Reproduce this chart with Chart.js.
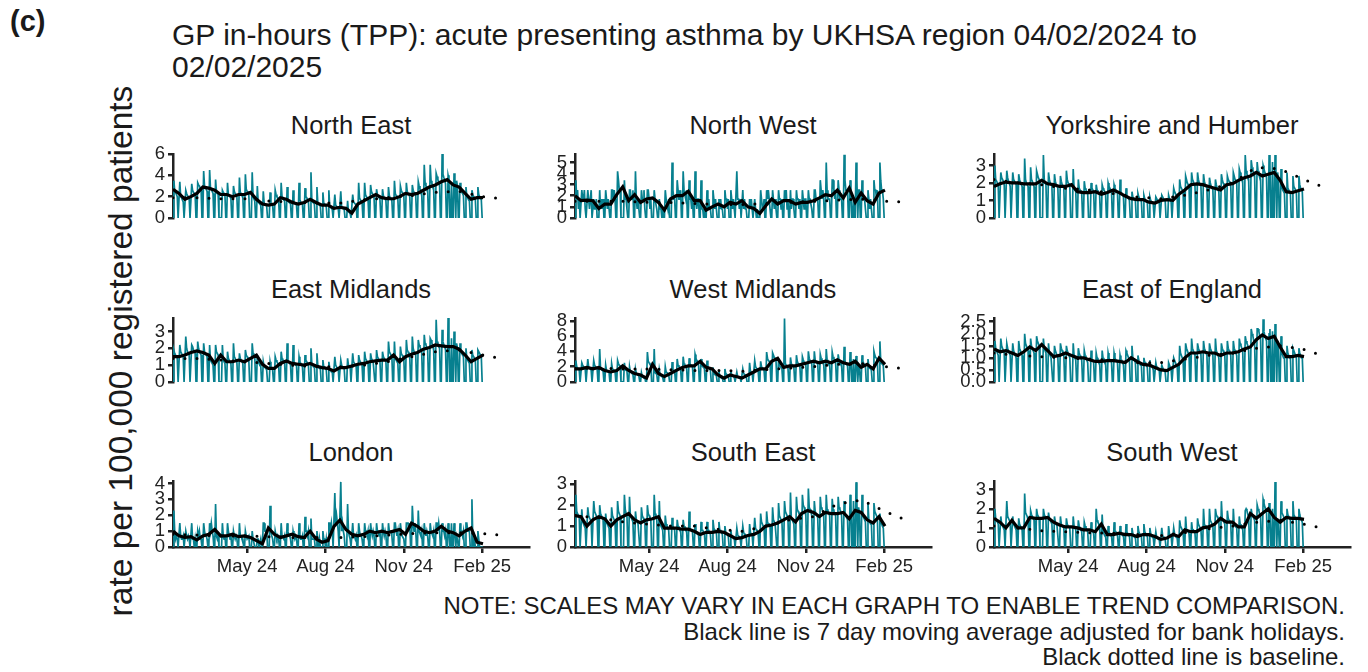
<!DOCTYPE html>
<html>
<head>
<meta charset="utf-8">
<script src="https://cdn.jsdelivr.net/npm/chart.js@4.4.1/dist/chart.umd.min.js"></script>
<style>
  body { margin: 0; width: 1368px; height: 672px; background: #fff; position: relative; overflow: hidden;
         font-family: "Liberation Sans", Arial, sans-serif; color: #1a1a1a; }
  .t { position: absolute; white-space: nowrap; line-height: 1; }
  canvas { position: absolute; }
</style>
</head>
<body>
<div class="t" style="left:10px;top:7px;font-size:29px;font-weight:bold;">(c)</div>
<div class="t" style="left:172px;top:19px;font-size:30px;line-height:32px;">GP in-hours (TPP): acute presenting asthma by UKHSA region 04/02/2024 to<br>02/02/2025</div>
<div class="t" style="left:-179px;top:331px;width:600px;height:40px;line-height:40px;font-size:33.5px;text-align:center;transform:rotate(-90deg);">rate per 100,000 registered patients</div>
<div class="t" style="right:23px;top:593px;font-size:24px;line-height:25.5px;text-align:right;">NOTE: SCALES MAY VARY IN EACH GRAPH TO ENABLE TREND COMPARISON.<br>Black line is 7 day moving average adjusted for bank holidays.<br>Black dotted line is baseline.</div>

<script>
// regions in facet order
const regions = ['North East', 'North West', 'Yorkshire and Humber',
                 'East Midlands', 'West Midlands', 'East of England',
                 'London', 'South East', 'South West'];

// x axis: day index from 04/02/2024 (day 0) to 02/02/2025 (day 364)
const startDate = '2024-02-04';
const tickDates = ['2024-05-01', '2024-08-01', '2024-11-01', '2025-02-01'];
const tickLabels = ['May 24', 'Aug 24', 'Nov 24', 'Feb 25'];

// y axis ticks and tops per region
const yTickSets = [[0, 2, 4, 6], [0, 1, 2, 3, 4, 5], [0, 1, 2, 3],
                   [0, 1, 2, 3], [0, 2, 4, 6, 8], [0, 0.5, 1, 1.5, 2, 2.5],
                   [0, 1, 2, 3, 4], [0, 1, 2, 3], [0, 1, 2, 3]];
const yMaxes = [6.0, 5.75, 3.65, 3.8, 8.35, 2.65, 4.15, 3.15, 3.45];

// 7 day moving average, one value every 7 days (day 0, 7, ... 364)
const neAvg = [2.7,2.3,1.75,2.0,2.3,2.9,2.8,2.6,2.2,2.2,2.0,2.2,2.2,2.4,1.75,1.3,1.2,1.3,1.9,1.75,1.45,1.3,1.45,1.75,1.45,1.2,1.2,0.9,1.0,0.9,0.45,1.3,1.6,1.9,2.2,1.9,1.8,1.8,2.0,2.3,2.2,2.3,2.6,2.9,3.1,3.4,3.6,3.1,2.9,2.3,1.75,1.9,1.9];
const nwAvg = [2.0,1.55,1.6,1.55,0.85,1.25,1.25,2.1,2.8,1.55,2.1,1.4,1.7,1.8,1.4,0.7,1.7,2.0,2.0,2.4,1.55,1.55,0.7,1.0,1.25,1.0,1.4,1.25,1.55,1.0,0.85,0.4,1.1,1.7,1.25,1.55,1.55,1.25,1.4,1.4,1.55,1.8,2.1,2.0,2.5,1.8,2.7,1.4,2.25,1.55,1.25,2.25,2.5];
const yhAvg = [1.8,1.95,2.05,2.0,2.0,1.95,1.95,1.95,2.15,1.95,1.9,1.8,1.8,1.9,1.5,1.45,1.45,1.5,1.35,1.45,1.6,1.45,1.25,1.1,1.05,1.05,0.9,0.85,1.0,1.05,1.0,1.35,1.6,1.9,1.95,1.9,1.8,1.7,1.6,1.9,1.95,2.15,2.3,2.4,2.6,2.4,2.5,2.6,2.15,1.5,1.45,1.55,1.65];
const emAvg = [1.5,1.5,1.6,1.75,1.85,1.75,1.6,1.1,1.6,1.2,1.2,1.3,1.2,1.4,1.6,1.05,0.8,0.8,1.1,1.25,1.1,1.05,1.0,1.1,0.95,0.85,0.8,0.65,0.85,0.85,0.95,1.05,1.1,1.2,1.25,1.3,1.3,1.6,1.2,1.5,1.65,1.75,1.95,2.05,2.2,2.15,2.1,2.1,1.95,1.6,1.2,1.4,1.6];
const wmAvg = [1.7,1.7,1.9,1.7,1.9,1.5,1.3,1.5,2.1,1.5,1.1,0.9,0.5,2.3,1.1,0.7,1.1,1.5,1.9,2.1,2.1,2.7,1.9,1.7,0.9,0.5,0.9,0.7,0.5,0.9,1.3,1.7,1.7,2.7,3.1,1.9,2.1,2.1,2.3,2.5,2.7,2.5,2.7,2.5,2.9,2.5,2.3,2.7,1.9,2.3,1.7,3.1,2.3];
const eeAvg = [1.37,1.25,1.3,1.2,1.1,1.25,1.45,1.3,1.55,1.3,1.05,1.1,1.2,1.1,1.0,1.0,0.92,0.85,0.85,0.88,0.88,0.85,0.8,1.0,0.85,0.73,0.7,0.6,0.5,0.47,0.6,0.73,1.0,1.2,1.2,1.25,1.2,1.2,1.1,1.2,1.2,1.25,1.37,1.45,1.75,1.95,1.8,1.9,1.45,1.05,1.05,1.1,1.05];
const loAvg = [1.0,0.7,0.6,0.65,0.45,0.7,0.8,1.1,0.7,0.7,0.8,0.65,0.7,0.6,0.4,0.2,1.2,0.8,0.6,0.7,0.8,0.65,0.6,1.0,0.5,0.3,0.4,1.3,1.7,1.1,0.8,0.7,0.8,1.0,0.9,1.0,0.9,1.0,1.1,0.8,1.5,1.3,1.0,0.9,1.0,1.3,1.0,0.9,0.7,1.0,1.2,0.3,0.2];
const seAvg = [1.5,1.45,1.0,1.3,1.45,1.35,1.0,1.3,1.45,1.6,1.3,1.15,1.3,1.35,1.45,0.9,0.9,0.9,0.85,0.85,0.75,0.6,0.7,0.7,0.75,0.7,0.55,0.4,0.45,0.55,0.6,0.75,1.0,1.05,1.15,1.3,1.45,1.2,1.6,1.75,1.65,1.45,1.65,1.6,1.6,1.65,1.35,1.75,1.65,1.3,1.15,1.45,1.0];
const swAvg = [1.5,1.3,1.0,1.4,1.0,1.0,1.55,1.5,1.5,1.55,1.3,1.15,1.05,1.05,1.0,0.9,0.9,0.8,1.2,0.65,0.65,0.72,0.65,0.65,0.55,0.65,0.65,0.55,0.4,0.47,0.65,0.55,0.9,0.8,0.8,1.0,1.05,1.2,1.5,1.3,1.3,1.05,1.05,1.75,1.5,1.75,2.0,1.55,1.3,1.55,1.5,1.5,1.45];

// baseline, at these days
const baseDays = [0, 28, 56, 84, 112, 140, 168, 196, 224, 252, 280, 308, 336, 364, 385];
const neBase = [1.9,1.9,1.8,1.8,1.6,1.5,1.4,1.4,1.7,1.9,2.1,2.4,2.5,2.0,1.8];
const nwBase = [1.5,1.5,1.5,1.4,1.4,1.3,1.2,1.2,1.3,1.4,1.5,1.6,1.7,1.5,1.45];
const yhBase = [2.2,2.0,1.9,1.7,1.6,1.4,1.2,1.1,1.3,1.6,2.0,2.9,2.8,2.2,1.8];
const emBase = [1.4,1.4,1.3,1.2,1.1,1.0,0.9,0.9,1.0,1.2,1.5,1.8,1.9,1.6,1.4];
const wmBase = [1.8,1.8,1.7,1.7,1.6,1.5,1.5,1.4,1.6,1.8,2.0,2.3,2.4,2.0,1.75];
const eeBase = [1.2,1.1,1.05,1.0,0.95,0.9,0.8,0.8,0.95,1.1,1.2,1.4,1.5,1.35,1.1];
const loBase = [0.8,0.75,0.7,0.7,0.65,0.6,0.6,0.6,0.65,0.75,0.85,0.9,0.9,0.85,0.75];
const seBase = [1.5,1.4,1.2,1.1,1.0,1.0,0.85,0.75,1.0,1.3,1.45,2.05,2.25,1.7,1.35];
const swBase = [1.1,1.0,0.85,0.8,0.75,0.72,0.65,0.6,0.75,0.95,1.1,1.3,1.4,1.2,1.0];

// daily rates in tenths: Sun 04/02/2024, then one line per week Mon..Sun
const neDaily = `0
35 26 24 22 20 0 0
34 20 19 17 15 0 0
26 23 21 20 18 0 0
32 26 24 23 21 0 0
33 31 30 28 26 0 0
44 30 29 27 25 0 0
45 28 27 25 23 0 0
36 25 23 22 0 0 0
0 26 24 23 21 0 0
33 22 21 20 18 0 0
30 25 23 22 20 0 0
38 24 23 21 20 0 0
41 27 25 24 22 0 0
0 43 20 18 16 0 0
30 15 14 13 12 0 0
25 14 13 12 11 0 0
0 24 14 13 12 0 0
26 22 20 19 17 0 0
33 20 19 17 16 0 0
29 17 15 14 13 0 0
26 15 14 13 12 0 0
33 17 15 14 13 0 0
28 20 19 17 16 0 0
43 17 15 14 13 0 0
29 14 13 12 11 0 0
24 14 13 12 10 0 0
26 11 10 9 8 0 0
22 12 11 10 9 0 0
25 10 9 9 8 0 0
0 16 6 5 4 0 0
22 15 14 13 12 0 0
33 19 17 16 15 0 0
33 22 20 19 17 0 0
31 25 23 22 20 0 0
27 22 20 19 17 0 0
27 21 19 18 16 0 0
29 21 19 18 16 0 0
35 23 21 20 18 0 0
30 26 24 23 21 0 0
33 25 23 22 20 0 0
31 26 24 23 21 0 0
34 30 27 26 23 0 0
50 33 30 29 26 0 0
50 35 32 31 28 0 0
42 39 36 34 31 0 0
60 41 38 36 32 0 0
40 36 0 0 33 0 0
42 34 0 35 30 0 0
33 26 24 23 21 0 0
29 20 19 17 16 0 0
26 22 20 19 17 0 0
29 22 20 19 17 0 0`;

const nwDaily = `0
34 17 25 8 17 0 0
25 17 17 25 8 0 0
25 17 8 17 25 0 0
17 8 8 17 0 0 0
25 8 17 8 17 0 0
25 17 8 17 8 0 0
25 25 17 25 17 0 0
42 34 25 25 0 0 0
0 34 17 17 8 0 0
25 25 17 17 25 0 0
42 17 8 17 8 0 0
25 17 17 25 8 0 0
25 25 17 8 17 0 0
0 25 17 17 8 0 0
17 8 8 0 8 0 0
25 17 17 8 17 0 0
0 50 25 17 17 0 0
34 25 17 17 25 0 0
42 25 25 17 25 0 0
34 17 17 8 17 0 0
42 17 8 17 17 0 0
34 8 8 0 8 0 0
25 8 17 8 8 0 0
25 17 8 17 8 0 0
17 8 17 8 8 0 0
25 17 17 8 17 0 0
25 17 8 17 8 0 0
42 17 17 8 17 0 0
25 8 17 8 8 0 0
0 17 8 17 8 0 0
17 8 0 8 0 0 0
25 17 8 8 17 0 0
25 17 25 17 8 0 0
25 17 8 17 8 0 0
25 17 17 8 17 0 0
25 17 25 8 17 0 0
25 8 17 17 8 0 0
25 17 17 8 17 0 0
25 17 8 17 17 0 0
25 17 17 17 8 0 0
25 25 17 17 17 0 0
34 25 17 25 17 0 0
50 25 17 17 17 0 0
34 34 25 17 25 0 0
34 25 17 17 17 0 0
57 34 25 25 25 0 0
34 25 0 0 17 0 0
50 34 0 25 25 0 0
34 17 17 17 8 0 0
25 17 8 17 8 0 0
34 25 25 17 25 0 0
50 34 25 25 17 0 0`;

const yhDaily = `0
30 22 21 20 18 0 0
26 23 22 21 19 0 0
27 23 21 20 18 0 0
26 22 21 20 19 0 0
25 22 20 19 18 0 0
34 22 20 19 18 0 0
29 22 21 19 18 0 0
27 25 23 22 0 0 0
0 36 22 20 19 0 0
26 22 20 19 18 0 0
25 21 19 18 17 0 0
24 21 19 18 17 0 0
27 22 20 19 18 0 0
0 28 17 16 15 0 0
22 17 16 15 14 0 0
21 17 16 15 14 0 0
0 20 17 16 15 0 0
19 16 15 14 13 0 0
19 17 16 15 14 0 0
20 18 17 16 15 0 0
19 17 16 15 14 0 0
22 15 14 13 12 0 0
17 13 12 11 10 0 0
15 12 11 11 10 0 0
14 12 11 10 10 0 0
13 11 10 9 9 0 0
12 10 9 9 8 0 0
12 11 10 10 9 0 0
13 12 11 10 10 0 0
0 13 11 10 9 0 0
17 15 14 13 12 0 0
22 18 17 16 15 0 0
24 22 20 19 18 0 0
26 22 21 19 18 0 0
26 22 20 19 18 0 0
25 21 19 18 17 0 0
23 20 18 17 16 0 0
22 19 17 16 15 0 0
25 22 20 19 18 0 0
24 22 21 20 18 0 0
26 24 22 21 20 0 0
28 26 24 23 21 0 0
36 27 25 24 22 0 0
33 29 27 26 24 0 0
32 27 25 24 22 0 0
30 28 26 25 23 0 0
36 30 0 0 32 0 0
36 28 0 26 22 0 0
28 18 16 15 14 0 0
26 17 16 15 14 0 0
24 18 17 16 15 0 0
24 19 17 16 15 0 0`;

const emDaily = `0
19 17 16 15 14 0 0
22 18 17 16 15 0 0
27 20 18 17 16 0 0
22 21 19 18 17 0 0
24 20 18 17 16 0 0
23 18 17 16 15 0 0
22 13 12 11 10 0 0
22 18 17 16 0 0 0
0 22 13 12 11 0 0
18 14 13 12 11 0 0
23 15 14 13 12 0 0
17 14 13 12 11 0 0
19 16 15 14 13 0 0
0 23 17 16 15 0 0
16 12 11 10 10 0 0
12 9 9 8 7 0 0
0 12 9 8 7 0 0
15 13 12 11 10 0 0
18 14 13 12 12 0 0
23 13 12 11 10 0 0
22 12 11 10 10 0 0
15 12 11 10 9 0 0
16 13 12 11 10 0 0
20 11 10 9 9 0 0
17 10 9 8 8 0 0
13 9 9 8 7 0 0
12 8 7 6 6 0 0
15 10 9 8 8 0 0
13 10 9 8 8 0 0
0 14 10 9 9 0 0
17 12 11 10 10 0 0
16 13 12 11 10 0 0
18 14 13 12 11 0 0
17 14 13 12 12 0 0
19 15 14 13 12 0 0
18 15 14 13 12 0 0
24 18 17 16 15 0 0
24 14 13 12 11 0 0
21 17 16 15 14 0 0
25 19 18 16 15 0 0
27 20 18 17 16 0 0
25 22 21 19 18 0 0
28 23 22 20 19 0 0
26 25 23 22 20 0 0
37 24 23 21 20 0 0
31 24 22 21 19 0 0
38 25 0 0 26 0 0
30 24 0 23 20 0 0
23 18 17 16 15 0 0
20 14 13 12 11 0 0
19 16 15 14 13 0 0
19 18 17 16 15 0 0`;

const wmDaily = `0
28 20 18 17 15 0 0
25 22 20 19 17 0 0
30 20 18 17 15 0 0
28 22 20 19 17 0 0
43 17 16 15 14 0 0
22 15 14 13 12 0 0
24 17 16 15 14 0 0
28 24 22 21 0 0 0
0 25 16 15 14 0 0
20 13 12 11 10 0 0
17 11 10 9 8 0 0
12 7 6 5 5 0 0
39 27 25 23 21 0 0
0 43 12 11 10 0 0
16 9 8 7 6 0 0
20 13 12 11 10 0 0
0 26 16 15 14 0 0
30 22 20 19 17 0 0
33 24 22 21 19 0 0
31 24 22 21 19 0 0
36 31 28 27 24 0 0
30 22 20 19 17 0 0
28 20 18 17 15 0 0
19 11 10 9 8 0 0
14 7 6 5 5 0 0
17 11 10 9 8 0 0
15 9 8 7 6 0 0
13 7 6 5 5 0 0
17 11 10 9 8 0 0
0 25 14 13 12 0 0
28 20 18 17 15 0 0
27 20 18 17 15 0 0
39 31 28 27 24 0 0
38 35 32 31 28 0 0
30 22 20 19 17 0 0
83 24 22 21 19 0 0
32 24 22 21 19 0 0
35 27 24 23 21 0 0
33 29 26 25 23 0 0
40 31 28 27 24 0 0
40 29 26 25 23 0 0
36 31 28 27 24 0 0
43 29 26 25 23 0 0
39 33 30 29 26 0 0
36 29 26 25 23 0 0
46 27 24 23 21 0 0
39 31 0 0 30 0 0
34 25 0 22 19 0 0
35 27 24 23 21 0 0
30 20 18 17 15 0 0
40 35 32 31 28 0 0
53 27 24 23 21 0 0`;

const eeDaily = `0
17 14 13 12 11 0 0
18 15 14 13 12 0 0
16 14 13 12 11 0 0
16 13 12 11 10 0 0
17 14 13 12 11 0 0
20 16 15 14 13 0 0
18 15 14 13 12 0 0
19 17 16 15 0 0 0
0 18 14 13 12 0 0
16 12 11 10 10 0 0
15 13 12 11 10 0 0
16 14 13 12 11 0 0
15 13 12 11 10 0 0
0 16 11 10 9 0 0
14 12 11 10 9 0 0
13 11 10 9 8 0 0
0 13 9 9 8 0 0
12 10 9 9 8 0 0
13 10 9 9 8 0 0
12 10 9 9 8 0 0
12 10 9 9 8 0 0
11 9 9 8 7 0 0
13 12 11 10 9 0 0
15 10 9 9 8 0 0
11 9 8 7 7 0 0
10 8 8 7 6 0 0
9 7 7 6 5 0 0
8 6 6 5 5 0 0
7 6 5 5 4 0 0
0 8 7 6 5 0 0
10 9 8 7 7 0 0
15 12 11 10 9 0 0
16 14 13 12 11 0 0
18 14 13 12 11 0 0
16 14 13 12 11 0 0
17 14 13 12 11 0 0
16 14 13 12 11 0 0
18 13 12 11 10 0 0
16 14 13 12 11 0 0
17 14 13 12 11 0 0
17 14 13 12 11 0 0
18 16 15 14 13 0 0
19 17 16 15 13 0 0
22 20 19 17 16 0 0
22 22 21 19 18 0 0
26 21 19 18 17 0 0
20 22 0 0 21 0 0
24 19 0 17 14 0 0
19 12 11 10 10 0 0
15 12 11 10 10 0 0
14 13 12 11 10 0 0
14 12 11 10 10 0 0`;

const loDaily = `0
23 10 5 7 5 0 0
15 7 5 5 7 0 0
10 7 5 7 5 0 0
15 5 5 0 5 0 0
10 7 10 5 5 0 0
15 10 7 7 5 0 0
15 10 15 10 7 0 0
27 7 5 7 0 0 0
0 15 7 5 7 0 0
15 10 7 5 7 0 0
10 7 5 7 5 0 0
15 7 7 5 5 0 0
10 7 5 5 7 0 0
0 10 5 5 0 0 0
5 5 0 0 5 0 0
15 15 10 10 10 0 0
0 26 10 7 5 0 0
10 7 5 7 5 0 0
15 7 7 5 7 0 0
15 10 7 7 5 0 0
10 7 5 7 5 0 0
15 7 5 5 7 0 0
19 10 10 7 10 0 0
18 5 5 5 5 0 0
10 5 0 5 0 0 0
10 5 5 0 5 0 0
15 15 10 15 10 0 0
34 15 20 15 10 0 0
41 10 15 10 7 0 0
0 27 10 7 5 0 0
15 7 7 5 7 0 0
15 10 7 7 5 0 0
15 10 10 7 10 0 0
15 10 7 10 7 0 0
15 10 10 7 10 0 0
15 10 7 10 7 0 0
15 10 10 10 7 0 0
15 15 10 7 10 0 0
15 10 7 7 5 0 0
15 15 15 10 15 0 0
26 15 10 15 10 0 0
23 10 10 7 10 0 0
15 10 7 10 7 0 0
15 10 10 7 10 0 0
15 15 10 15 10 0 0
15 10 10 7 10 0 0
15 10 0 0 15 0 0
15 10 0 7 5 0 0
15 10 10 7 10 0 0
15 15 10 10 10 0 0
30 5 0 5 0 0 0
10 5 0 0 0 0 0`;

const seDaily = `0
25 17 16 15 14 0 0
18 12 11 10 9 0 0
19 15 14 13 12 0 0
22 17 16 15 14 0 0
20 16 15 14 13 0 0
16 12 11 10 9 0 0
19 15 14 13 12 0 0
22 17 16 15 0 0 0
0 25 18 16 15 0 0
24 15 14 13 12 0 0
17 13 12 11 11 0 0
19 15 14 13 12 0 0
20 16 15 14 13 0 0
0 25 16 15 14 0 0
22 11 10 9 8 0 0
15 11 10 9 8 0 0
0 14 10 9 8 0 0
13 10 9 9 8 0 0
13 10 9 9 8 0 0
17 9 8 8 7 0 0
11 7 7 6 6 0 0
12 8 8 7 6 0 0
12 8 8 7 6 0 0
13 9 8 8 7 0 0
12 8 8 7 6 0 0
10 7 6 6 5 0 0
8 5 5 4 4 0 0
9 6 5 5 4 0 0
10 7 6 6 5 0 0
0 11 7 6 6 0 0
14 9 8 8 7 0 0
16 12 11 10 9 0 0
17 12 11 11 10 0 0
19 13 12 11 11 0 0
21 15 14 13 12 0 0
22 17 16 15 14 0 0
26 14 13 12 11 0 0
24 18 17 16 15 0 0
25 20 19 17 16 0 0
28 19 18 17 15 0 0
22 17 16 15 14 0 0
24 19 18 17 15 0 0
25 18 17 16 15 0 0
23 18 17 16 15 0 0
24 19 18 17 15 0 0
22 16 15 14 13 0 0
25 21 0 0 22 0 0
31 21 0 19 16 0 0
25 15 14 13 12 0 0
21 13 12 11 11 0 0
21 17 16 15 14 0 0
16 12 11 10 9 0 0`;

const swDaily = `0
20 15 14 13 12 0 0
16 12 11 10 9 0 0
24 16 15 14 13 0 0
16 12 11 10 9 0 0
15 12 11 10 9 0 0
28 18 17 16 14 0 0
19 17 16 15 14 0 0
20 17 16 15 0 0 0
0 20 17 16 14 0 0
18 15 14 13 12 0 0
16 13 12 11 11 0 0
16 12 11 11 10 0 0
15 12 11 11 10 0 0
0 16 11 10 9 0 0
14 11 10 9 8 0 0
13 11 10 9 8 0 0
0 13 9 8 7 0 0
20 14 13 12 11 0 0
17 8 7 6 6 0 0
11 8 7 6 6 0 0
13 8 8 7 6 0 0
11 8 7 6 6 0 0
12 8 7 6 6 0 0
10 7 6 5 5 0 0
11 8 7 6 6 0 0
12 8 7 6 6 0 0
10 7 6 5 5 0 0
8 5 5 4 4 0 0
10 6 5 5 4 0 0
0 11 7 6 6 0 0
10 7 6 5 5 0 0
14 11 10 9 8 0 0
16 9 9 8 7 0 0
13 9 9 8 7 0 0
15 12 11 10 9 0 0
20 12 11 11 10 0 0
20 14 13 12 11 0 0
20 17 16 15 14 0 0
24 15 14 13 12 0 0
19 15 14 13 12 0 0
20 12 11 11 10 0 0
16 12 11 11 10 0 0
19 20 19 17 16 0 0
20 17 16 15 14 0 0
22 20 19 17 16 0 0
25 23 21 20 18 0 0
23 18 0 0 20 0 0
34 18 0 15 12 0 0
24 18 17 16 14 0 0
20 17 16 15 14 0 0
24 17 16 15 14 0 0
20 17 15 14 13 0 0`;

const dailySets = [neDaily, nwDaily, yhDaily, emDaily, wmDaily, eeDaily, loDaily, seDaily, swDaily];
const avgSets = [neAvg, nwAvg, yhAvg, emAvg, wmAvg, eeAvg, loAvg, seAvg, swAvg];
const baseSets = [neBase, nwBase, yhBase, emBase, wmBase, eeBase, loBase, seBase, swBase];

// layout
const colX = [173, 575, 994];     // pixel of day 0 in each column
const rowY = [152, 316, 479];     // top of each row's plot area
const plotW = 356, plotH = 68;
const yAxisW = 60, padTop = 12, padBottom = 12, xAxisH = 42;
const xMax = 418;
const teal = '#07808f';
const ink = '#222222';
const family = '"Liberation Sans", Arial, sans-serif';

function dayOf(s) {
  return Math.round((Date.parse(s) - Date.parse(startDate)) / 864e5);
}
const tickDays = tickDates.map(dayOf);

function dailyPoints(str) {
  const v = str.trim().split(/\s+/).map(n => Number(n) / 10);
  return v.map((y, d) => ({ x: d, y: y }));
}

regions.forEach((name, i) => {
  const col = i % 3, row = Math.floor(i / 3);
  const bottom = row === 2;

  const label = document.createElement('div');
  label.className = 't';
  label.textContent = name;
  label.style.cssText = `left:${colX[col] + plotW / 2 - 200}px;top:${rowY[row] - 39}px;width:400px;text-align:center;font-size:25.5px;`;
  document.body.appendChild(label);

  const cv = document.createElement('canvas');
  const w = yAxisW + plotW + 8;
  const h = padTop + plotH + (bottom ? xAxisH : padBottom);
  cv.width = w; cv.height = h;
  cv.style.width = w + 'px'; cv.style.height = h + 'px';
  cv.style.left = (colX[col] - yAxisW) + 'px';
  cv.style.top = (rowY[row] - padTop) + 'px';
  document.body.appendChild(cv);

  const avgPts = avgSets[i].map((y, k) => ({ x: k * 7, y: y }));
  const basePts = baseSets[i].map((y, k) => ({ x: baseDays[k], y: y }));
  const ticks = yTickSets[i];
  const dec = ticks.some(t => t % 1 !== 0);

  new Chart(cv, {
    type: 'line',
    data: {
      datasets: [
        { data: avgPts, borderColor: '#000', borderWidth: 3.2, pointRadius: 0, tension: 0 },
        { data: basePts, borderColor: '#000', borderWidth: 3, borderDash: [0, 12],
          borderCapStyle: 'round', pointRadius: 0 },
        { data: dailyPoints(dailySets[i]), borderColor: teal, borderWidth: 1.7, pointRadius: 0 }
      ]
    },
    options: {
      responsive: false,
      animation: false,
      devicePixelRatio: 1,
      layout: { padding: { top: padTop, bottom: bottom ? 0 : padBottom, left: 0, right: 8 } },
      plugins: { legend: { display: false }, tooltip: { enabled: false } },
      scales: {
        x: {
          type: 'linear', min: 0, max: xMax, display: bottom,
          afterBuildTicks: s => { s.ticks = tickDays.map(v => ({ value: v })); },
          afterFit: s => { s.height = bottom ? xAxisH : 0; },
          ticks: { callback: v => tickLabels[tickDays.indexOf(v)], color: ink, autoSkip: false,
                   maxRotation: 0, padding: 3, font: { size: 18.5, family: family } },
          grid: { drawOnChartArea: false, tickLength: 6, color: ink, lineWidth: 2.5 },
          border: { display: true, color: ink, width: 2.5 }
        },
        y: {
          min: 0, max: yMaxes[i],
          afterBuildTicks: s => { s.ticks = ticks.map(v => ({ value: v })); },
          afterFit: s => { s.width = yAxisW; },
          ticks: { callback: v => dec ? v.toFixed(1) : String(v), color: ink, autoSkip: false,
                   padding: 3, font: { size: 18.5, family: family } },
          grid: { drawOnChartArea: false, tickLength: 5, color: ink, lineWidth: 2.5 },
          border: { display: true, color: ink, width: 2.5 }
        }
      }
    }
  });
});
</script>
</body>
</html>
